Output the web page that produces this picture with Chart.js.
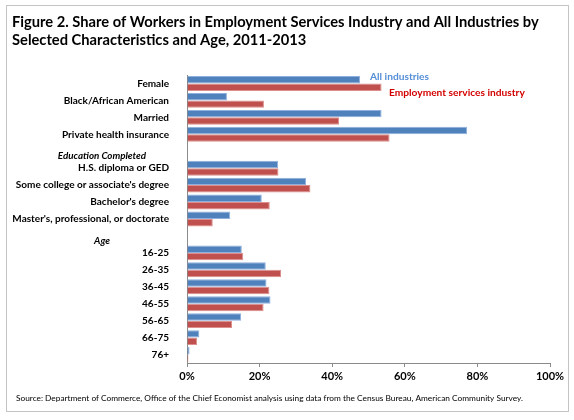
<!DOCTYPE html>
<html>
<head>
<meta charset="utf-8">
<script src="https://cdn.jsdelivr.net/npm/chart.js@4/dist/chart.umd.min.js"></script>
<style>
  html, body { margin: 0; padding: 0; background: #fff; }
  #wrap { width: 574px; height: 420px; position: relative; }
</style>
</head>
<body>
<div id="wrap"><canvas id="chart"></canvas></div>
<script>
// rows of the chart, top to bottom; the two section headings have no bars
const categories = [
  'Female', 'Black/African American', 'Married', 'Private health insurance',
  'Education Completed',
  'H.S. diploma or GED', "Some college or associate's degree", "Bachelor's degree",
  "Master's, professional, or doctorate",
  'Age',
  '16-25', '26-35', '36-45', '46-55', '56-65', '66-75', '76+'
];
const headings = ['Education Completed', 'Age'];

const allIndustries = [47.7, 11.0, 53.6, 77.2, null, 25.1, 32.8, 20.6, 11.9, null,
  15.1, 21.7, 21.9, 23.0, 14.9, 3.4, 0.7];
const employmentServices = [53.6, 21.2, 41.9, 55.8, null, 25.2, 34.0, 22.8, 7.1, null,
  15.5, 25.9, 22.7, 21.1, 12.4, 2.8, 0.4];

const xTicks = ['0%', '20%', '40%', '60%', '80%', '100%'];

const titleLines = [
  'Figure 2. Share of Workers in Employment Services Industry and All Industries by',
  'Selected Characteristics and Age, 2011-2013'
];
const sourceNote = 'Source: Department of Commerce, Office of the Chief Economist analysis using data from the Census Bureau, American Community Survey.';

const FONT = 'Lato, "Open Sans", sans-serif';

// frame, title, legend text, section headings and source line
const decorations = {
  id: 'decorations',
  afterDraw(chart) {
    const { ctx, chartArea, scales } = chart;
    ctx.save();
    ctx.strokeStyle = '#c4c4c4';
    ctx.lineWidth = 1;
    ctx.strokeRect(6.5, 5.5, 562, 406);

    ctx.fillStyle = '#000';
    ctx.textAlign = 'left';
    ctx.textBaseline = 'alphabetic';
    ctx.font = 'bold 14.7px ' + FONT;
    titleLines.forEach((t, i) => ctx.fillText(t, 12, 27 + i * 17.7));

    ctx.font = 'bold 10.2px ' + FONT;
    ctx.fillStyle = '#558ed5';
    ctx.fillText('All industries', 370, 80);
    ctx.fillStyle = '#d40000';
    ctx.fillText('Employment services industry', 389, 96);

    ctx.font = 'italic bold 9.8px ' + FONT;
    ctx.fillStyle = '#000';
    ctx.textAlign = 'center';
    ctx.textBaseline = 'middle';
    headings.forEach(h => {
      const y = scales.y.getPixelForValue(categories.indexOf(h));
      ctx.fillText(h, chartArea.left - 85, y + 5);
    });

    ctx.font = '8.3px ' + FONT;
    ctx.textAlign = 'left';
    ctx.fillText(sourceNote, 16, 398);
    ctx.restore();
  }
};

new Chart(document.getElementById('chart'), {
  type: 'bar',
  data: {
    labels: categories,
    datasets: [
      {
        label: 'All industries',
        data: allIndustries,
        backgroundColor: '#4f81bd',
        borderColor: '#8fb0dc',
        borderWidth: 1,
      },
      {
        label: 'Employment services industry',
        data: employmentServices,
        backgroundColor: '#c0504d',
        borderColor: '#dc8f8c',
        borderWidth: 1,
      },
    ],
  },
  options: {
    indexAxis: 'y',
    responsive: true,
    maintainAspectRatio: false,
    animation: false,
    layout: { padding: { top: 75, right: 24, bottom: 34, left: 0 } },
    datasets: { bar: { categoryPercentage: 0.88, barPercentage: 1 } },
    plugins: {
      legend: { display: false },
      title: { display: false },
      tooltip: { enabled: false },
    },
    scales: {
      x: {
        min: 0,
        max: 100,
        afterFit(scale) { scale.height = 23; },
        ticks: {
          stepSize: 20,
          color: '#000',
          padding: 3,
          font: { family: FONT, size: 11, weight: 'bold' },
          callback: (v, i) => xTicks[i],
        },
        grid: { drawOnChartArea: false, drawTicks: true, tickLength: 4, color: '#8a8a8a' },
        border: { color: '#8a8a8a' },
      },
      y: {
        afterFit(scale) { scale.width = 187; },
        ticks: {
          color: '#000',
          padding: 10,
          autoSkip: false,
          font: { family: FONT, size: 10, weight: 'bold' },
          callback: (v, i) => headings.includes(categories[i]) ? '' : categories[i],
        },
        grid: { display: false },
        border: { color: '#8a8a8a' },
      },
    },
  },
  plugins: [decorations],
});
</script>
</body>
</html>
